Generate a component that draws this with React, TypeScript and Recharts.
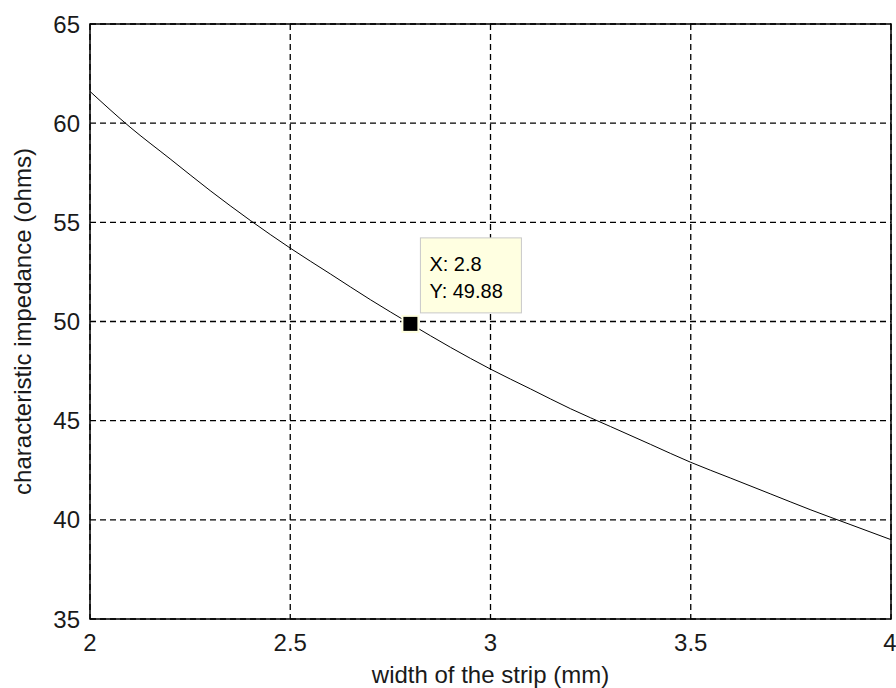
import { LineChart, Line, XAxis, YAxis, CartesianGrid, ReferenceArea, ReferenceDot } from "recharts"

// strip width (mm) vs characteristic impedance (ohms)
const widths = [2.0, 2.1, 2.2, 2.3, 2.4, 2.5, 2.6, 2.7, 2.8, 2.9, 3.0, 3.1, 3.2, 3.3, 3.4, 3.5, 3.6, 3.7, 3.8, 3.9, 4.0]
const impedance = [61.6, 59.8, 58.2, 56.6, 55.1, 53.7, 52.4, 51.1, 49.88, 48.7, 47.6, 46.6, 45.6, 44.7, 43.8, 42.9, 42.1, 41.3, 40.5, 39.75, 39.0]
const xTicks = [2, 2.5, 3, 3.5, 4]
const yTicks = [35, 40, 45, 50, 55, 60, 65]
const marker = { x: 2.8, y: 49.88 }

const data = widths.map((w, i) => ({ w, z: impedance[i] }))

const font = "Arial, 'Liberation Sans', sans-serif"
const textColor = "#1a1a1a"

function DataTip(props: any) {
  const { cx, cy } = props
  return (
    <g>
      <rect x={cx - 9} y={cy - 9} width={18} height={18} fill="#ffffe0" />
      <rect x={cx - 7} y={cy - 7} width={14} height={14} fill="#000" />
      <rect x={cx + 10} y={cy - 86} width={101} height={75} fill="#ffffe1" stroke="#c8c8c8" />
      <text x={cx + 19} y={cy - 53} fontSize={20} fontFamily={font} fill="#000">
        X: {marker.x}
      </text>
      <text x={cx + 19} y={cy - 26} fontSize={20} fontFamily={font} fill="#000">
        Y: {marker.y}
      </text>
    </g>
  )
}

export default function App() {
  return (
    <div style={{ position: "absolute", left: 0, top: 0, background: "#fff" }}>
      <LineChart width={896} height={688} data={data} margin={{ top: 24, right: 5, left: 30, bottom: 4 }}>
        <CartesianGrid stroke="#000" strokeDasharray="6 4" strokeWidth={1.3} />
        <XAxis
          dataKey="w"
          type="number"
          domain={[2, 4]}
          ticks={xTicks}
          height={65}
          axisLine={false}
          tickLine={false}
          tick={{ fill: textColor, fontSize: 24, fontFamily: font }}
          tickMargin={9}
          label={{ value: "width of the strip (mm)", position: "insideBottom", offset: 1, fill: textColor, fontSize: 24, fontFamily: font }}
        />
        <YAxis
          type="number"
          domain={[35, 65]}
          ticks={yTicks}
          width={60}
          axisLine={false}
          tickLine={false}
          tick={{ fill: textColor, fontSize: 24, fontFamily: font }}
          tickMargin={4}
          label={{ value: "characteristic impedance (ohms)", angle: -90, position: "insideLeft", offset: -8, style: { textAnchor: "middle" }, fill: textColor, fontSize: 24, fontFamily: font }}
        />
        <ReferenceArea x1={2} x2={4} y1={35} y2={65} fill="none" stroke="#000" strokeWidth={1.5} fillOpacity={0} />
        <Line type="monotone" dataKey="z" stroke="#000" strokeWidth={1} dot={false} isAnimationActive={false} />
        <ReferenceDot x={marker.x} y={marker.y} r={8} shape={DataTip} />
      </LineChart>
    </div>
  )
}
